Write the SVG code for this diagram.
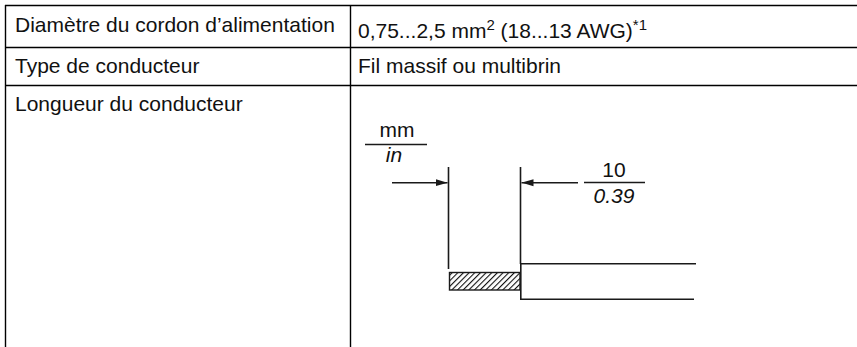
<svg xmlns="http://www.w3.org/2000/svg" width="857" height="347" viewBox="0 0 857 347">
<style>
  .t { font-family: "Liberation Sans", Arial, sans-serif; font-size: 21px; fill: #111; }
  .sup { font-size: 15px; }
  .grid { stroke: #000; stroke-width: 1.4; fill: none; }
  .dl { stroke: #1a1a1a; stroke-width: 1.6; fill: none; }
  .it { font-style: italic; }
</style>
<defs>
  <marker id="arr" viewBox="0 0 12 10" refX="12" refY="5" markerWidth="12" markerHeight="10" markerUnits="userSpaceOnUse" orient="auto">
    <path d="M0,1.5 L12,5 L0,8.5 Z" fill="#1a1a1a"/>
  </marker>
  <pattern id="hatch" patternUnits="userSpaceOnUse" width="4" height="4" patternTransform="rotate(45)">
    <rect width="4" height="4" fill="#fff"/>
    <line x1="0" y1="0" x2="0" y2="4" stroke="#111" stroke-width="2.2"/>
  </pattern>
</defs>
<rect width="857" height="347" fill="#fff"/>
<g id="table">
  <line class="grid" x1="5" y1="5.5" x2="857" y2="5.5"/>
  <line class="grid" x1="5" y1="47.5" x2="857" y2="47.5"/>
  <line class="grid" x1="5" y1="85.5" x2="857" y2="85.5"/>
  <line class="grid" x1="5.5" y1="5" x2="5.5" y2="347"/>
  <line class="grid" x1="350.5" y1="5" x2="350.5" y2="347"/>
</g>
<g id="row1">
  <text class="t" x="15" y="32">Diamètre du cordon d’alimentation</text>
  <text class="t" x="358" y="38">0,75...2,5 mm<tspan class="sup" dy="-8">2</tspan><tspan dy="8"> (18...13 AWG)</tspan><tspan class="sup" dy="-8">*1</tspan></text>
</g>
<g id="row2">
  <text class="t" x="15" y="73">Type de conducteur</text>
  <text class="t" x="358" y="73">Fil massif ou multibrin</text>
</g>
<g id="row3">
  <text class="t" x="15" y="111">Longueur du conducteur</text>
</g>
<g id="diagram">
  <text class="t" x="397" y="137" text-anchor="middle">mm</text>
  <line class="dl" x1="365" y1="144.5" x2="427" y2="144.5" stroke-width="1.2"/>
  <text class="t it" x="394" y="162" text-anchor="middle">in</text>
  <line class="dl" x1="448.5" y1="167" x2="448.5" y2="269"/>
  <line class="dl" x1="520.5" y1="167" x2="520.5" y2="264"/>
  <text class="t" x="614" y="177" text-anchor="middle">10</text>
  <line class="dl" x1="584" y1="182.5" x2="645" y2="182.5" stroke-width="1.2"/>
  <text class="t it" x="614" y="203" text-anchor="middle">0.39</text>
  <rect x="449.5" y="272.5" width="70.5" height="17.5" fill="url(#hatch)" stroke="#1a1a1a" stroke-width="1.4"/>
  <path class="dl" d="M696,263.8 H520.8 V299.3 H694"/>
</g>
<g id="connectors">
  <line class="dl" x1="392" y1="182.7" x2="447.5" y2="182.7" marker-end="url(#arr)"/>
  <line class="dl" x1="578" y1="182.7" x2="521.5" y2="182.7" marker-end="url(#arr)"/>
</g>
</svg>
